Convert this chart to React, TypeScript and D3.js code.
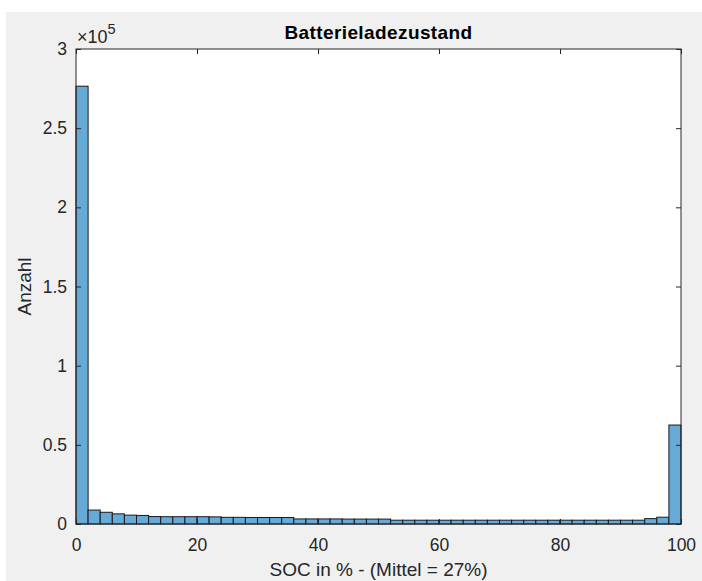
import React, { useRef, useEffect } from 'react';
import { select, scaleLinear, axisBottom, axisLeft, axisTop, axisRight, range } from 'd3';

// histogram of battery state of charge, bins of 2 %
const binEdges = range(0, 102, 2);
const counts = [
  276500, 8800, 7400, 6400, 5600, 5400, 4700, 4600, 4600, 4600,
  4600, 4500, 4200, 4200, 4100, 4100, 4100, 4100, 3200, 3200,
  3200, 3200, 3100, 3100, 3100, 3100, 2400, 2400, 2400, 2400,
  2400, 2400, 2400, 2400, 2400, 2400, 2400, 2400, 2400, 2400,
  2400, 2400, 2400, 2400, 2400, 2400, 2400, 3400, 4300, 62500,
];
const xTicks = [0, 20, 40, 60, 80, 100];
const yTicks = [0, 50000, 100000, 150000, 200000, 250000, 300000];
const yTickLabels = ['0', '0.5', '1', '1.5', '2', '2.5', '3'];

const W = 702;
const H = 581;
const left = 76, right = 681, top = 49, bottom = 524;
const font = '"Liberation Sans", Arial, sans-serif';
const ink = '#262626';

function App() {
  const ref = useRef<SVGSVGElement>(null);

  useEffect(() => {
    const svg = select(ref.current);
    svg.selectAll('*').remove();

    const x = scaleLinear().domain([0, 100]).range([left, right]);
    const y = scaleLinear().domain([0, 300000]).range([bottom, top]);

    svg.append('rect').attr('x', 6).attr('y', 12).attr('width', W - 6).attr('height', H - 12).attr('fill', '#f0f0f0');
    svg.append('rect').attr('x', left).attr('y', top).attr('width', right - left).attr('height', bottom - top).attr('fill', '#fff');

    svg.append('g')
      .selectAll('rect')
      .data(counts)
      .join('rect')
      .attr('x', (d, i) => x(binEdges[i]))
      .attr('width', (d, i) => x(binEdges[i + 1]) - x(binEdges[i]))
      .attr('y', (d) => y(d))
      .attr('height', (d) => y(0) - y(d))
      .attr('fill', '#66aad7')
      .attr('stroke', '#1a1a1a')
      .attr('stroke-width', 1);

    const style = (g) => {
      g.select('.domain').remove();
      g.selectAll('line').attr('stroke', ink);
      g.selectAll('text').attr('fill', ink).style('font-family', font).style('font-size', '17.5px');
    };

    svg.append('g')
      .attr('transform', `translate(0,${bottom})`)
      .call(axisBottom(x).tickValues(xTicks).tickSizeInner(-5).tickSizeOuter(0).tickPadding(15))
      .call(style);
    svg.append('g')
      .attr('transform', `translate(0,${top})`)
      .call(axisTop(x).tickValues(xTicks).tickSizeInner(-5).tickSizeOuter(0).tickFormat(() => ''))
      .call(style);
    svg.append('g')
      .attr('transform', `translate(${left},0)`)
      .call(axisLeft(y).tickValues(yTicks).tickSizeInner(-5).tickSizeOuter(0).tickPadding(9)
        .tickFormat((d, i) => yTickLabels[i]))
      .call(style);
    svg.append('g')
      .attr('transform', `translate(${right},0)`)
      .call(axisRight(y).tickValues(yTicks).tickSizeInner(-5).tickSizeOuter(0).tickFormat(() => ''))
      .call(style);

    svg.append('rect')
      .attr('x', left).attr('y', top).attr('width', right - left).attr('height', bottom - top)
      .attr('fill', 'none').attr('stroke', ink).attr('stroke-width', 1);

    // exponent label
    const exp = svg.append('text').attr('x', left + 1).attr('y', 43)
      .attr('fill', ink).style('font-family', font).style('font-size', '18px');
    exp.append('tspan').text('\u00d710');
    exp.append('tspan').attr('dy', -9).style('font-size', '14.5px').text('5');

    svg.append('text')
      .attr('x', (left + right) / 2).attr('y', 39)
      .attr('text-anchor', 'middle').attr('fill', '#000')
      .style('font-family', font).style('font-size', '19px').style('font-weight', 'bold')
      .style('letter-spacing', '0.4px')
      .text('Batterieladezustand');

    svg.append('text')
      .attr('x', (left + right) / 2).attr('y', 576)
      .attr('text-anchor', 'middle').attr('fill', ink)
      .style('font-family', font).style('font-size', '19px')
      .text('SOC in % - (Mittel = 27%)');

    svg.append('text')
      .attr('transform', `translate(31,${(top + bottom) / 2}) rotate(-90)`)
      .attr('text-anchor', 'middle').attr('fill', ink)
      .style('font-family', font).style('font-size', '19px')
      .text('Anzahl');
  }, []);

  return (
    <svg ref={ref} width={W} height={H} style={{ position: 'absolute', left: 0, top: 0, background: '#fff' }}></svg>
  );
}

export default App;
